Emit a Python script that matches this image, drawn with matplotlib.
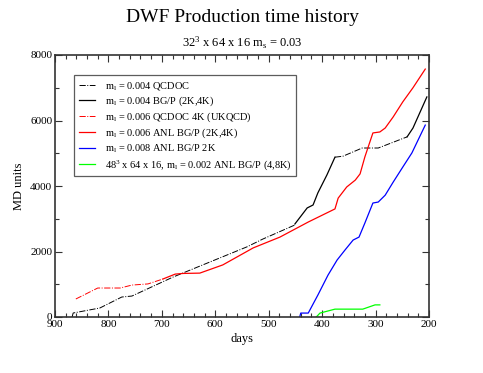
import numpy as np
import matplotlib
matplotlib.use("Agg")
from matplotlib import pyplot as plt
from matplotlib.ticker import MultipleLocator

plt.rcParams['font.family'] = ['Liberation Serif', 'DejaVu Serif']
plt.rcParams['mathtext.fontset'] = 'custom'
plt.rcParams['mathtext.rm'] = 'Liberation Serif'
plt.rcParams['mathtext.it'] = 'Liberation Serif'

# m_l = 0.004 QCDOC (dash-dot), gap where BG/P took over
qcdoc004_days = [868, 866, 816, 775, 756, 679, 610, 541, 511, 451, np.nan,
                 376, 361, 325, 295, 241]
qcdoc004_md = [0, 122, 275, 610, 640, 1220, 1680, 2140, 2380, 2810, np.nan,
               4880, 4910, 5160, 5160, 5500]

# m_l = 0.004 BG/P (2K,4K)
bgp004_days = [451, 428, 417, 408, 391, 376, np.nan, 241, 230, 204]
bgp004_md = [2840, 3330, 3420, 3790, 4340, 4880, np.nan, 5500, 5770, 6720]

# m_l = 0.006 QCDOC 4K (UKQCD)
qcdoc006_days = [861, 820, 778, 756, 726, 698]
qcdoc006_md = [550, 885, 885, 975, 1010, 1160]

# m_l = 0.006 ANL BG/P (2K,4K)
anl006_days = [698, 675, 660, 629, 586, 529, 479, 426, 376, 370, 354, 338,
               329, 320, 305, 292, 282, 267, 249, 230, 207]
anl006_md = [1160, 1310, 1330, 1340, 1590, 2110, 2440, 2900, 3300, 3630,
             3970, 4180, 4370, 4890, 5620, 5650, 5770, 6110, 6570, 7000, 7570]

# m_l = 0.008 ANL BG/P 2K
anl008_days = [442, 440, 426, 408, 389, 372, 357, 342, 331, 320, 305, 295,
               282, 267, 249, 232, 207]
anl008_md = [0, 120, 120, 670, 1280, 1740, 2050, 2350, 2440, 2870, 3480,
             3510, 3720, 4120, 4580, 5010, 5860]

# 48^3 x 64 x 16, m_l = 0.002 ANL BG/P (4,8K)
anl002_days = [411, 404, 376, 324, 301, 292]
anl002_md = [0, 120, 240, 240, 370, 370]

fig = plt.figure(figsize=(4.83, 3.73), dpi=100)
ax = fig.add_axes([55/483, 1 - 317/373, 374/483, 262/373])

lw = 0.9
ax.plot(qcdoc004_days, qcdoc004_md, color='black', ls='-.', lw=0.7,
        label=r'm$_\mathrm{l}$ = 0.004 QCDOC')
ax.plot(bgp004_days, bgp004_md, color='black', lw=lw,
        label=r'm$_\mathrm{l}$ = 0.004 BG/P (2K,4K)')
ax.plot(qcdoc006_days, qcdoc006_md, color='#ff0000', ls='-.', lw=0.7,
        label=r'm$_\mathrm{l}$ = 0.006 QCDOC 4K (UKQCD)')
ax.plot(anl006_days, anl006_md, color='#ff0000', lw=lw,
        label=r'm$_\mathrm{l}$ = 0.006 ANL BG/P (2K,4K)')
ax.plot(anl008_days, anl008_md, color='#0000ff', lw=lw,
        label=r'm$_\mathrm{l}$ = 0.008 ANL BG/P 2K')
ax.plot(anl002_days, anl002_md, color='#00ff00', lw=lw,
        label=r'48$^3$ x 64 x 16, m$_\mathrm{l}$ = 0.002 ANL BG/P (4,8K)')

ax.set_xlim(900, 200)
ax.set_ylim(0, 8000)
ax.xaxis.set_major_locator(MultipleLocator(100))
ax.xaxis.set_minor_locator(MultipleLocator(20))
ax.yaxis.set_major_locator(MultipleLocator(2000))
ax.yaxis.set_minor_locator(MultipleLocator(1000))
ax.tick_params(which='both', direction='in', top=True, right=True,
               labelsize=8, pad=2, color='#333333', width=0.8)
ax.tick_params(which='major', length=5)
ax.tick_params(which='minor', length=3)
for s in ax.spines.values():
    s.set_linewidth(1.2)
    s.set_color('#333333')

ax.set_xlabel('days', fontsize=9, labelpad=3)
ax.set_ylabel('MD units', fontsize=9, labelpad=4)

fig.text(242/483, 1 - 18/373, 'DWF Production time history', fontsize=14,
         ha='center', va='center')
fig.text(242/483, 1 - 43/373, r'32$^3$ x 64 x 16 m$_\mathrm{s}$ = 0.03',
         fontsize=9, ha='center', va='center')

leg = ax.legend(loc='upper left', bbox_to_anchor=(19/374, 1 - 20/262),
                fontsize=7.5, frameon=True, fancybox=False, handlelength=1.6,
                handletextpad=0.9, labelspacing=0.25, borderpad=0.45,
                borderaxespad=0)
leg.get_frame().set_edgecolor('#333333')
leg.get_frame().set_linewidth(0.9)

fig.savefig('out.png', dpi=100)
